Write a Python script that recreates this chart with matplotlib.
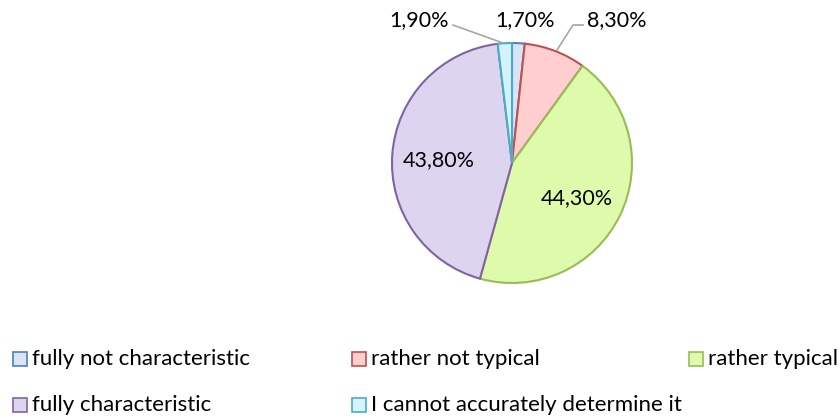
import matplotlib.pyplot as plt
from matplotlib.patches import Rectangle

# datos
categorias = ['fully not characteristic', 'rather not typical', 'rather typical',
              'fully characteristic', 'I cannot accurately determine it']
valores = [1.7, 8.3, 44.3, 43.8, 1.9]
relleno = ['#dae4f7', '#ffcfcf', '#ddfbaa', '#ddd4ef', '#d4f3fc']
borde = ['#4f81bd', '#c0504d', '#9bbb59', '#8064a2', '#4bacc6']

plt.rcParams['font.family'] = ['Lato', 'DejaVu Sans']

W, H = 840, 418
fig = plt.figure(figsize=(W / 100, H / 100), dpi=100)

# pastel: centro (512,163), radio 120 px
cx, cy, r = 512, 163, 120
ax = fig.add_axes([(cx - r) / W, (H - cy - r) / H, 2 * r / W, 2 * r / H])
wedges, _ = ax.pie(valores, startangle=90, counterclock=False,
                   colors=relleno,
                   wedgeprops=dict(linewidth=1.5))
for w, c in zip(wedges, borde):
    w.set_edgecolor(c)
ax.set_xlim(-1, 1)
ax.set_ylim(-1, 1)
ax.set_aspect('equal')

def etiqueta(v):
    return f'{v:.2f}'.replace('.', ',') + '%'

# posiciones de etiquetas (px)
pos = [(525, 20), (617, 20), (577, 198), (439, 160), (419, 20)]
for v, (x, y) in zip(valores, pos):
    fig.text(x / W, 1 - y / H, etiqueta(v), ha='center', va='center', fontsize=15.5)

# lineas guia
gris = '#a6a6a6'
fig.add_artist(plt.Line2D([453 / W, 503 / W], [1 - 25 / H, 1 - 43 / H], color=gris, lw=1.2))
fig.add_artist(plt.Line2D([583 / W, 573 / W, 557 / W], [1 - 25 / H, 1 - 25 / H, 1 - 50 / H], color=gris, lw=1.2))

# leyenda manual
leg_pos = [(13, 359), (352, 359), (689, 359), (13, 405), (352, 405)]
for nombre, f, b, (x, y) in zip(categorias, relleno, borde, leg_pos):
    fig.add_artist(Rectangle((x / W, 1 - (y + 7) / H), 14 / W, 14 / H,
                             facecolor=f, edgecolor=b, lw=1.2, transform=fig.transFigure))
    fig.text((x + 19) / W, 1 - y / H, nombre, ha='left', va='center', fontsize=16)

fig.savefig('out.png', dpi=100)
